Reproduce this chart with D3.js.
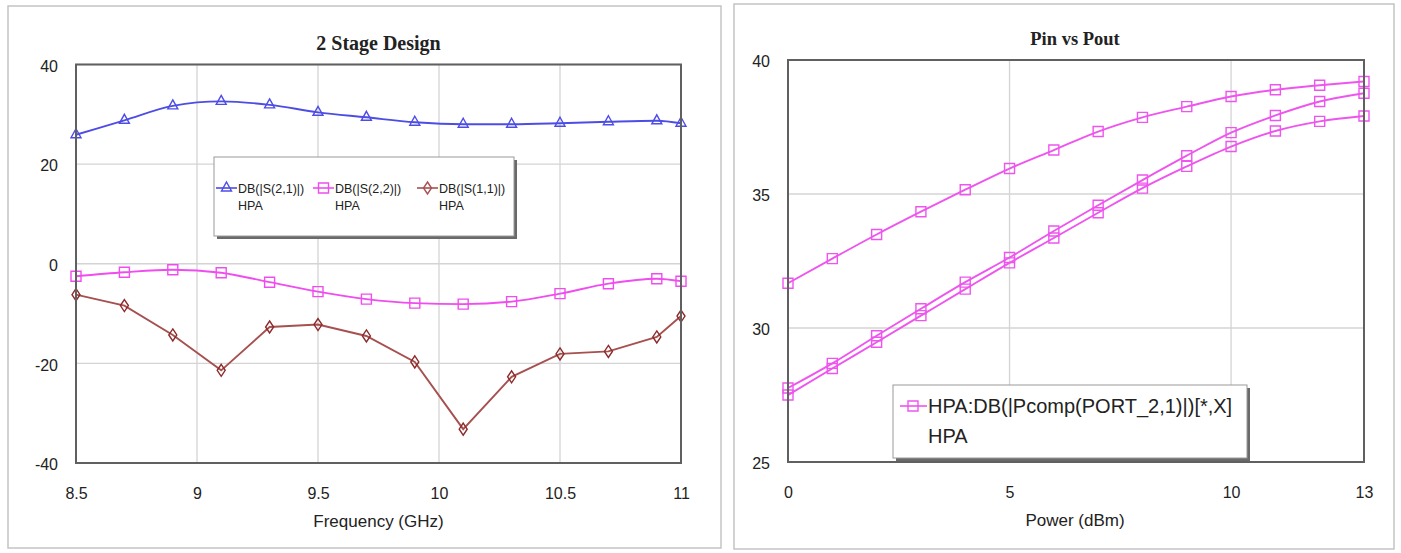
<!DOCTYPE html>
<html>
<head>
<meta charset="utf-8">
<script src="https://cdn.jsdelivr.net/npm/d3@7"></script>
<style>
  body { margin: 0; background: #fff; }
  svg text { font-family: "Liberation Sans", Arial, sans-serif; fill: #222; }
</style>
</head>
<body>
<svg id="chart" width="1401" height="553"></svg>
<script>
// left chart data: S-parameters vs frequency
const freq = [8.5, 8.7, 8.9, 9.1, 9.3, 9.5, 9.7, 9.9, 10.1, 10.3, 10.5, 10.7, 10.9, 11.0];
const s21 = [25.9, 28.8, 31.7, 32.6, 31.9, 30.4, 29.4, 28.4, 28.0, 28.0, 28.2, 28.5, 28.7, 28.2];
const s22 = [-2.5, -1.7, -1.2, -1.8, -3.7, -5.6, -7.1, -7.9, -8.1, -7.6, -6.0, -4.0, -3.0, -3.5];
const s11 = [-6.2, -8.4, -14.3, -21.4, -12.7, -12.2, -14.5, -19.7, -33.2, -22.7, -18.1, -17.6, -14.7, -10.5];
const freqTicks = [8.5, 9, 9.5, 10, 10.5, 11];
const dbTicks = [-40, -20, 0, 20, 40];

// right chart data: Pin vs Pout
const pin = [0, 1, 2, 3, 4, 5, 6, 7, 8, 9, 10, 11, 12, 13];
const poutA = [31.67, 32.59, 33.49, 34.34, 35.16, 35.95, 36.64, 37.33, 37.86, 38.26, 38.64, 38.89, 39.06, 39.2];
const poutB = [27.76, 28.68, 29.71, 30.72, 31.71, 32.63, 33.62, 34.58, 35.52, 36.43, 37.29, 37.93, 38.45, 38.76];
const poutC = [27.5, 28.49, 29.47, 30.46, 31.45, 32.43, 33.36, 34.3, 35.22, 36.03, 36.77, 37.35, 37.71, 37.91];
const pinTicks = [0, 5, 10, 13];
const poutTicks = [25, 30, 35, 40];

const svg = d3.select('#chart');

// panel frames
[[8, 6, 713, 542], [734, 4, 660, 545]].forEach(function (p) {
    svg.append('rect')
        .attr('x', p[0]).attr('y', p[1]).attr('width', p[2]).attr('height', p[3])
        .attr('fill', '#fff').attr('stroke', '#c4c4c4').attr('stroke-width', 1.5);
});

// marker shapes, drawn hollow
function marker(g, type, x, y, color) {
    let path;
    if (type === 'tri') path = `M${x},${y - 6}L${x + 5},${y + 3}L${x - 5},${y + 3}Z`;
    else if (type === 'sq') path = `M${x - 5},${y - 5}h10v10h-10Z`;
    else path = `M${x},${y - 6}L${x + 4},${y}L${x},${y + 6}L${x - 4},${y}Z`;
    g.append('path').attr('d', path).attr('fill', 'none')
        .attr('stroke', color).attr('stroke-width', 1.4);
}

function drawPanel(cfg) {
    let g = svg.append('g');
    let x = d3.scaleLinear().domain(cfg.xDomain).range([cfg.left, cfg.right]);
    let y = d3.scaleLinear().domain(cfg.yDomain).range([cfg.bottom, cfg.top]);

    // grid
    g.selectAll('.gx').data(cfg.xTicks).enter().append('line')
        .attr('x1', d => x(d)).attr('x2', d => x(d))
        .attr('y1', cfg.top).attr('y2', cfg.bottom)
        .attr('stroke', '#d4d4d4').attr('stroke-width', 1.3);
    g.selectAll('.gy').data(cfg.yTicks).enter().append('line')
        .attr('x1', cfg.left).attr('x2', cfg.right)
        .attr('y1', d => y(d)).attr('y2', d => y(d))
        .attr('stroke', '#d4d4d4').attr('stroke-width', 1.3);

    // axes labels only (plain hyphen for negatives)
    let fmt = d => String(d);
    let ax = g.append('g').attr('transform', `translate(0,${cfg.bottom})`)
        .call(d3.axisBottom(x).tickValues(cfg.xTicks).tickSize(0).tickPadding(25).tickFormat(fmt));
    let ay = g.append('g').attr('transform', `translate(${cfg.left},0)`)
        .call(d3.axisLeft(y).tickValues(cfg.yTicks).tickSize(0).tickPadding(18).tickFormat(fmt));
    [ax, ay].forEach(function (a) {
        a.select('.domain').remove();
        a.selectAll('text').attr('font-size', 16).attr('fill', '#222')
            .attr('font-family', '"Liberation Sans", Arial, sans-serif');
    });
    ay.selectAll('text').attr('dy', '0.42em');

    // series
    cfg.series.forEach(function (s) {
        let line = d3.line().x((d, i) => x(cfg.xs[i])).y(d => y(d))
            .curve(s.smooth ? d3.curveMonotoneX : d3.curveLinear);
        g.append('path').datum(s.values).attr('d', line)
            .attr('fill', 'none').attr('stroke', s.color).attr('stroke-width', 1.9);
        s.values.forEach(function (v, i) {
            marker(g, s.shape, x(cfg.xs[i]), y(v), s.mcolor || s.color);
        });
    });

    // plot border
    g.append('rect')
        .attr('x', cfg.left).attr('y', cfg.top)
        .attr('width', cfg.right - cfg.left).attr('height', cfg.bottom - cfg.top)
        .attr('fill', 'none').attr('stroke', '#606060').attr('stroke-width', 2);

    // titles
    g.append('text').attr('x', (cfg.left + cfg.right) / 2 + cfg.titleDx).attr('y', cfg.top - 15)
        .attr('text-anchor', 'middle').attr('font-size', cfg.titleSize).attr('font-weight', 'bold')
        .style('font-family', '"Liberation Serif", "Times New Roman", serif')
        .text(cfg.title);
    g.append('text').attr('x', (cfg.left + cfg.right) / 2 + cfg.xLabelDx).attr('y', cfg.bottom + 64)
        .attr('text-anchor', 'middle').attr('font-size', 17)
        .text(cfg.xLabel);
    return g;
}

function legendBox(g, bx, by, bw, bh) {
    g.append('rect').attr('x', bx + 3).attr('y', by + 3).attr('width', bw).attr('height', bh)
        .attr('fill', '#6a6a6a');
    g.append('rect').attr('x', bx).attr('y', by).attr('width', bw).attr('height', bh)
        .attr('fill', '#fff').attr('stroke', '#9a9a9a').attr('stroke-width', 1);
}

// ---- left chart
let gl = drawPanel({
    left: 76, right: 681, top: 64.5, bottom: 463,
    xDomain: [8.5, 11], yDomain: [-40, 40],
    xTicks: freqTicks, yTicks: dbTicks, xs: freq,
    title: '2 Stage Design', titleSize: 20, titleDx: 0, xLabel: 'Frequency (GHz)', xLabelDx: 0,
    series: [
        {values: s21, color: '#4d4de6', shape: 'tri', smooth: true},
        {values: s22, color: '#f04cf0', shape: 'sq', smooth: true},
        {values: s11, color: '#a65050', mcolor: '#8c2a2a', shape: 'dia', smooth: false}
    ]
});
legendBox(gl, 214, 157, 300, 79);
const leftLegend = [
    {label: 'DB(|S(2,1)|)', color: '#4d4de6', shape: 'tri', x: 216},
    {label: 'DB(|S(2,2)|)', color: '#f04cf0', shape: 'sq', x: 313},
    {label: 'DB(|S(1,1)|)', color: '#a65050', shape: 'dia', x: 417}
];
leftLegend.forEach(function (d) {
    gl.append('line').attr('x1', d.x).attr('x2', d.x + 21).attr('y1', 188).attr('y2', 188)
        .attr('stroke', d.color).attr('stroke-width', 1.6);
    marker(gl, d.shape, d.x + 10.5, 188, d.color);
    gl.append('text').attr('x', d.x + 22).attr('y', 193).attr('font-size', 12.5).text(d.label);
    gl.append('text').attr('x', d.x + 22).attr('y', 210).attr('font-size', 12.5).text('HPA');
});

// ---- right chart
let gr = drawPanel({
    left: 788, right: 1364, top: 60, bottom: 462,
    xDomain: [0, 13], yDomain: [25, 40],
    xTicks: pinTicks, yTicks: poutTicks, xs: pin,
    title: 'Pin vs Pout', titleSize: 18.5, titleDx: -1, xLabel: 'Power (dBm)', xLabelDx: -1,
    series: [
        {values: poutA, color: '#ee55ee', shape: 'sq', smooth: true},
        {values: poutB, color: '#ee55ee', shape: 'sq', smooth: true},
        {values: poutC, color: '#ee55ee', shape: 'sq', smooth: true}
    ]
});
legendBox(gr, 893, 385, 354, 73);
gr.append('line').attr('x1', 900).attr('x2', 927).attr('y1', 406).attr('y2', 406)
    .attr('stroke', '#ee55ee').attr('stroke-width', 1.6);
marker(gr, 'sq', 913, 406, '#ee55ee');
gr.append('text').attr('x', 928).attr('y', 413).attr('font-size', 20)
    .text('HPA:DB(|Pcomp(PORT_2,1)|)[*,X]');
gr.append('text').attr('x', 928).attr('y', 443).attr('font-size', 20).text('HPA');
</script>
</body>
</html>
